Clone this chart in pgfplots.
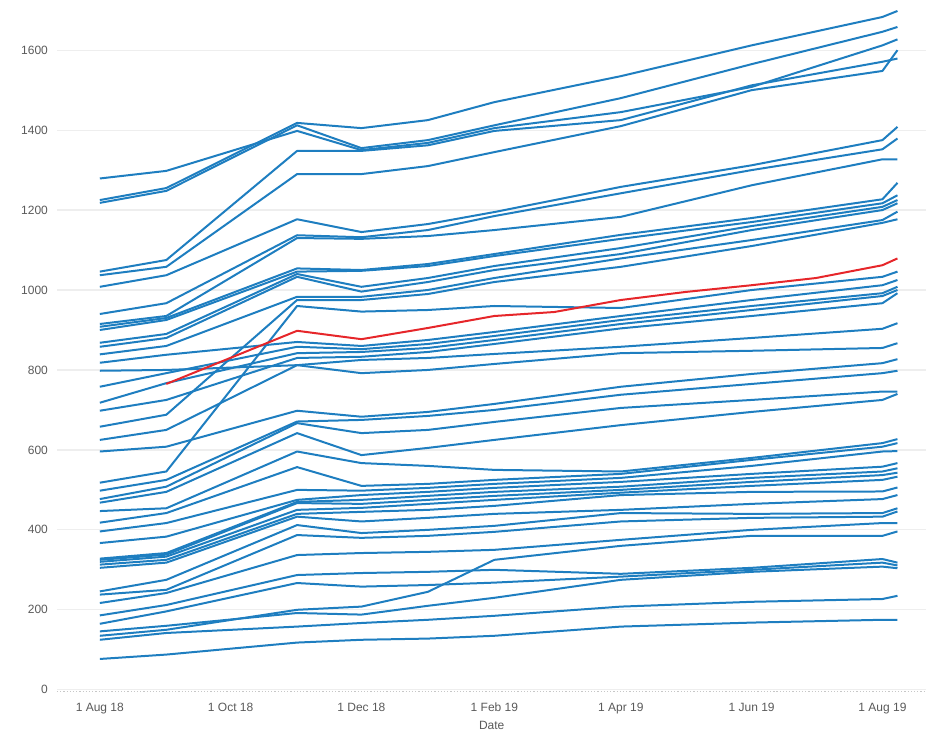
\documentclass[border=0pt]{standalone}
\usepackage{pgfplots}
\pgfplotsset{compat=1.18}
\usepackage{fontspec}
\setmainfont{Liberation Sans}
\definecolor{lblue}{RGB}{30,126,192}
\definecolor{lred}{RGB}{230,38,42}
\definecolor{tickc}{RGB}{90,90,90}
\definecolor{gridc}{RGB}{238,238,238}
\begin{document}
\begin{tikzpicture}
\begin{axis}[
  at={(0,0)}, anchor=south west,
  scale only axis, width=435pt, height=346pt,
  xmin=-20, xmax=385.5, ymin=-5, ymax=1725,
  axis line style={draw=none},
  xtick={0,61,122,184,243,304,365},
  xticklabels={1 Aug 18,1 Oct 18,1 Dec 18,1 Feb 19,1 Apr 19,1 Jun 19,1 Aug 19},
  ytick={0,200,400,600,800,1000,1200,1400,1600},
  major tick length=0pt,
  xmajorgrids=false, ymajorgrids=true,
  major grid style={draw=gridc, line width=0.6pt},
  tick label style={font=\fontsize{6}{7}\selectfont, text=tickc},
  /pgf/number format/assume math mode=true,
  /pgf/number format/1000 sep={},
  yticklabel style={xshift=-1pt},
  xticklabel style={yshift=-2pt},
  xlabel={Date}, xlabel style={font=\fontsize{6}{7}\selectfont, text=tickc, yshift=3pt},
  every axis plot/.append style={line width=1pt, line join=round},
  clip=false,
]
\draw[densely dotted, draw=black!22, line width=0.6pt] (axis cs:-20,-5) -- (axis cs:385.5,-5);
% top group
\addplot[lblue] coordinates {(0,1225)(31,1255)(92,1418)(122,1405)(153,1425)(184,1470)(243,1535)(304,1612)(365,1683)(372,1698)};
\addplot[lblue] coordinates {(0,1218)(31,1248)(92,1412)(122,1355)(153,1375)(184,1412)(243,1480)(304,1565)(365,1646)(372,1658)};
\addplot[lblue] coordinates {(0,1279)(31,1298)(92,1398)(122,1350)(153,1368)(184,1405)(243,1445)(304,1508)(365,1612)(372,1627)};
\addplot[lblue] coordinates {(0,1046)(31,1075)(92,1348)(122,1348)(153,1362)(184,1398)(243,1425)(304,1512)(365,1571)(372,1579)};
\addplot[lblue] coordinates {(0,1037)(31,1058)(92,1290)(122,1290)(153,1310)(184,1345)(243,1410)(304,1500)(365,1548)(372,1600)};
\addplot[lblue] coordinates {(0,1008)(31,1037)(92,1177)(122,1145)(153,1165)(184,1195)(243,1258)(304,1312)(365,1375)(372,1408)};
\addplot[lblue] coordinates {(0,940)(31,967)(92,1137)(122,1132)(153,1150)(184,1185)(243,1242)(304,1300)(365,1352)(372,1379)};
\addplot[lblue] coordinates {(0,915)(31,935)(92,1130)(122,1128)(153,1135)(184,1150)(243,1183)(304,1262)(365,1327)(372,1327)};
\addplot[lblue] coordinates {(0,908)(31,930)(92,1054)(122,1050)(153,1065)(184,1090)(243,1138)(304,1180)(365,1227)(372,1268)};
\addplot[lblue] coordinates {(0,900)(31,925)(92,1046)(122,1048)(153,1060)(184,1085)(243,1128)(304,1170)(365,1217)(372,1237)};
\addplot[lblue] coordinates {(0,868)(31,890)(92,1040)(122,1008)(153,1030)(184,1060)(243,1105)(304,1160)(365,1208)(372,1225)};
\addplot[lblue] coordinates {(0,858)(31,880)(92,1033)(122,996)(153,1020)(184,1050)(243,1090)(304,1150)(365,1200)(372,1217)};
\addplot[lblue] coordinates {(0,839)(31,860)(92,983)(122,983)(153,1000)(184,1030)(243,1079)(304,1125)(365,1175)(372,1196)};
\addplot[lblue] coordinates {(0,658)(31,688)(92,975)(122,975)(153,990)(184,1020)(243,1058)(304,1110)(365,1168)(372,1177)};
% middle group
\addplot[lblue] coordinates {(0,518)(31,546)(92,960)(122,946)(153,950)(184,960)(243,955)(304,1000)(365,1033)(372,1046)};
\addplot[lblue] coordinates {(0,818)(31,838)(92,870)(122,860)(153,875)(184,895)(243,935)(304,975)(365,1012)(372,1025)};
\addplot[lblue] coordinates {(0,758)(31,792)(92,858)(122,852)(153,865)(184,885)(243,925)(304,960)(365,992)(372,1008)};
\addplot[lblue] coordinates {(0,718)(31,767)(92,842)(122,845)(153,855)(184,875)(243,915)(304,950)(365,985)(372,1000)};
\addplot[lblue] coordinates {(0,698)(31,725)(92,830)(122,833)(153,845)(184,865)(243,904)(304,935)(365,967)(372,992)};
\addplot[lblue] coordinates {(0,625)(31,650)(92,812)(122,825)(153,830)(184,840)(243,858)(304,880)(365,903)(372,917)};
\addplot[lblue] coordinates {(0,798)(31,800)(92,812)(122,792)(153,800)(184,815)(243,842)(304,848)(365,855)(372,867)};
\addplot[lblue] coordinates {(0,596)(31,608)(92,698)(122,683)(153,695)(184,715)(243,758)(304,790)(365,817)(372,827)};
\addplot[lblue] coordinates {(0,498)(31,525)(92,671)(122,675)(153,685)(184,700)(243,738)(304,765)(365,792)(372,798)};
\addplot[lblue] coordinates {(0,477)(31,508)(92,667)(122,642)(153,650)(184,670)(243,705)(304,725)(365,746)(372,746)};
\addplot[lblue] coordinates {(0,468)(31,495)(92,642)(122,587)(153,605)(184,625)(243,662)(304,695)(365,725)(372,740)};
% lower group
\addplot[lblue] coordinates {(0,447)(31,454)(92,596)(122,567)(153,560)(184,550)(243,546)(304,580)(365,617)(372,627)};
\addplot[lblue] coordinates {(0,418)(31,442)(92,557)(122,510)(153,515)(184,525)(243,540)(304,575)(365,608)(372,617)};
\addplot[lblue] coordinates {(0,396)(31,417)(92,500)(122,498)(153,505)(184,515)(243,530)(304,560)(365,596)(372,597)};
\addplot[lblue] coordinates {(0,367)(31,383)(92,475)(122,487)(153,495)(184,505)(243,520)(304,540)(365,558)(372,567)};
\addplot[lblue] coordinates {(0,328)(31,342)(92,470)(122,475)(153,485)(184,495)(243,508)(304,530)(365,546)(372,554)};
\addplot[lblue] coordinates {(0,325)(31,338)(92,467)(122,465)(153,475)(184,485)(243,500)(304,520)(365,537)(372,543)};
\addplot[lblue] coordinates {(0,320)(31,333)(92,450)(122,455)(153,465)(184,475)(243,493)(304,510)(365,525)(372,533)};
\addplot[lblue] coordinates {(0,313)(31,325)(92,440)(122,445)(153,450)(184,460)(243,487)(304,495)(365,496)(372,506)};
\addplot[lblue] coordinates {(0,305)(31,318)(92,433)(122,421)(153,430)(184,440)(243,450)(304,465)(365,477)(372,487)};
\addplot[lblue] coordinates {(0,246)(31,275)(92,412)(122,392)(153,400)(184,410)(243,442)(304,440)(365,442)(372,454)};
\addplot[lblue] coordinates {(0,238)(31,250)(92,387)(122,380)(153,385)(184,395)(243,421)(304,430)(365,433)(372,446)};
% bottom group
\addplot[lblue] coordinates {(0,217)(31,242)(92,337)(122,342)(153,345)(184,350)(243,375)(304,400)(365,417)(372,417)};
\addplot[lblue] coordinates {(0,135)(31,150)(92,200)(122,208)(153,245)(184,325)(243,360)(304,385)(365,385)(372,396)};
\addplot[lblue] coordinates {(0,186)(31,212)(92,287)(122,292)(153,295)(184,300)(243,290)(304,305)(365,327)(372,318)};
\addplot[lblue] coordinates {(0,165)(31,196)(92,267)(122,258)(153,262)(184,268)(243,283)(304,300)(365,318)(372,311)};
\addplot[lblue] coordinates {(0,146)(31,160)(92,192)(122,188)(153,210)(184,230)(243,275)(304,295)(365,308)(372,304)};
\addplot[lblue] coordinates {(0,125)(31,142)(92,158)(122,167)(153,175)(184,185)(243,208)(304,220)(365,227)(372,235)};
\addplot[lblue] coordinates {(0,77)(31,88)(92,118)(122,125)(153,128)(184,135)(243,158)(304,168)(365,175)(372,175)};
% highlighted series
\addplot[lred] coordinates {(31,765)(92,898)(122,877)(153,905)(184,935)(212,945)(243,975)(273,995)(304,1012)(334,1030)(365,1062)(372,1079)};
\end{axis}
\path (-28.5pt,-26pt) rectangle (435pt,346pt);
\end{tikzpicture}
\end{document}
